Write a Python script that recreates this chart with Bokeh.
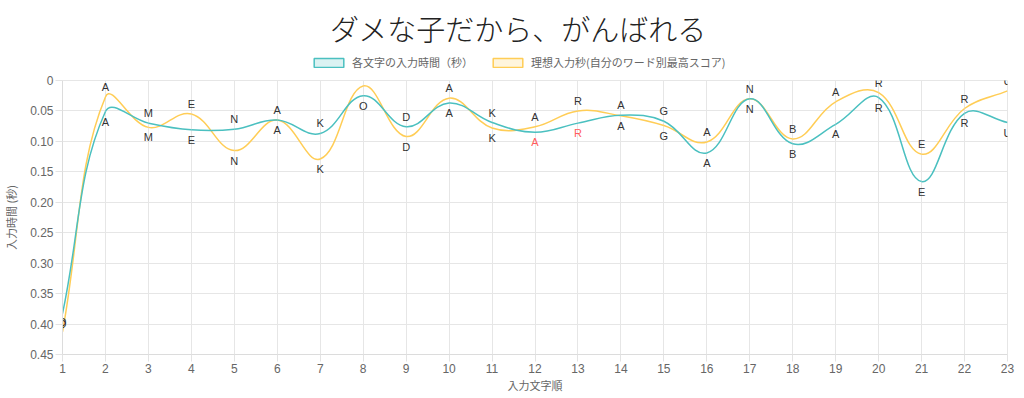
import math
from bokeh.plotting import figure
from bokeh.layouts import column
from bokeh.models import (Range1d, FixedTicker, Legend, LegendItem, ColumnDataSource, Label)
from bokeh.embed import file_html
from bokeh.resources import INLINE

# ---- data ----
title_text = "ダメな子だから、がんばれる"
letters = list("DAMENAKODAKARAGANBARERU")
positions = list(range(1, 24))
actual = [0.383, 0.051, 0.070, 0.081, 0.080, 0.065, 0.087, 0.025, 0.076, 0.037, 0.069,
          0.085, 0.070, 0.057, 0.067, 0.119, 0.030, 0.104, 0.072, 0.028, 0.166, 0.054, 0.069]
ideal = [0.413, 0.027, 0.077, 0.055, 0.115, 0.065, 0.129, 0.009, 0.092, 0.029, 0.078,
         0.076, 0.050, 0.058, 0.074, 0.101, 0.030, 0.096, 0.035, 0.020, 0.121, 0.046, 0.017]
miss_positions = [12, 13]
y_ticks = [0, 0.05, 0.10, 0.15, 0.20, 0.25, 0.30, 0.35, 0.40, 0.45]
y_tick_labels = ["0", "0.05", "0.10", "0.15", "0.20", "0.25", "0.30", "0.35", "0.40", "0.45"]
series_names = ["各文字の入力時間（秒）", "理想入力秒(自分のワード別最高スコア)"]
y_axis_title = "入力時間 (秒)"
x_axis_title = "入力文字順"

TEAL = "rgb(75,192,192)"
YELLOW = "rgb(255,205,86)"
FONT = "Liberation Sans"
JP = "Noto Sans CJK JP"
JP_LIGHT = "'Noto Sans CJK JP Light', 'Noto Sans CJK JP DemiLight', 'Noto Sans CJK JP'"

W = 1008
HEAD_H = 73
FW, FH = 945, 274
XMIN, XMAX, YMIN, YMAX = 1, 23, 0, 0.45
sx = FW / (XMAX - XMIN)
sy = FH / (YMAX - YMIN)


def bezier_segments(xs, ys, t=0.4):
    pts = [(x * sx, y * sy) for x, y in zip(xs, ys)]
    n = len(pts)
    cprev, cnext = [], []
    for i in range(n):
        p0 = pts[i - 1] if i > 0 else pts[i]
        p1 = pts[i]
        p2 = pts[i + 1] if i < n - 1 else pts[i]
        d01 = math.hypot(p1[0] - p0[0], p1[1] - p0[1])
        d12 = math.hypot(p2[0] - p1[0], p2[1] - p1[1])
        tot = d01 + d12
        s01 = d01 / tot if tot else 0
        s12 = d12 / tot if tot else 0
        fa, fb = t * s01, t * s12
        cprev.append((p1[0] - fa * (p2[0] - p0[0]), p1[1] - fa * (p2[1] - p0[1])))
        cnext.append((p1[0] + fb * (p2[0] - p0[0]), p1[1] + fb * (p2[1] - p0[1])))

    def clamp(p):
        return (min(max(p[0] / sx, XMIN), XMAX), min(max(p[1] / sy, YMIN), YMAX))

    d = dict(x0=[], y0=[], x1=[], y1=[], cx0=[], cy0=[], cx1=[], cy1=[])
    for i in range(n - 1):
        c0 = clamp(cnext[i])
        c1 = clamp(cprev[i + 1])
        d["x0"].append(xs[i]); d["y0"].append(ys[i])
        d["x1"].append(xs[i + 1]); d["y1"].append(ys[i + 1])
        d["cx0"].append(c0[0]); d["cy0"].append(c0[1])
        d["cx1"].append(c1[0]); d["cy1"].append(c1[1])
    return ColumnDataSource(d)


# ---------- header (title + legend); its frame is aligned with the chart frame ----------
head = figure(width=W, height=HEAD_H, output_backend="svg", toolbar_location=None,
              x_range=Range1d(0, FW), y_range=Range1d(0, HEAD_H),
              x_axis_type=None, y_axis_type=None, min_border=0)
head.grid.visible = False
head.outline_line_color = None
head.background_fill_color = "white"
head.border_fill_color = "white"
head.add_layout(Label(x=460, y=HEAD_H - 27, text=title_text, text_align="center",
                      text_baseline="middle", text_font=JP_LIGHT, text_font_size="29px",
                      text_color="#222222"))
# legend swatches (kept outside the visible header range; only their legend entries show)
r1 = head.quad(left=[-20], right=[-10], top=[-20], bottom=[-10], fill_color=TEAL,
               fill_alpha=0.2, line_color=TEAL, line_width=1.5)
r2 = head.quad(left=[-20], right=[-10], top=[-20], bottom=[-10], fill_color=YELLOW,
               fill_alpha=0.2, line_color=YELLOW, line_width=1.5)
legend = Legend(items=[LegendItem(label=series_names[0], renderers=[r1]),
                       LegendItem(label=series_names[1], renderers=[r2])],
                orientation="horizontal", location=(248, 3),
                glyph_width=37, glyph_height=11, label_standoff=5, spacing=16,
                label_text_font=JP, label_text_font_size="11px", label_text_baseline="middle",
                label_text_color="#666666", border_line_alpha=0, background_fill_alpha=0,
                padding=0, margin=0, label_height=11)
head.add_layout(legend)

# ---------- main chart ----------
p = figure(frame_width=FW, frame_height=FH, output_backend="svg", toolbar_location=None,
           x_range=Range1d(XMIN, XMAX), y_range=Range1d(YMAX, YMIN),
           min_border_left=54, min_border_right=9, min_border_bottom=0, min_border_top=7)
p.background_fill_color = "white"
p.border_fill_color = "white"
p.outline_line_color = "#e6e6e6"

p.xaxis.ticker = FixedTicker(ticks=positions)
p.yaxis.ticker = FixedTicker(ticks=y_ticks)
p.yaxis.major_label_overrides = {t: l for t, l in zip(y_ticks, y_tick_labels)}
for ax in (p.xaxis[0], p.yaxis[0]):
    ax.major_tick_out = 7
    ax.major_tick_in = 0
    ax.minor_tick_out = 0
    ax.minor_tick_in = 0
    ax.major_tick_line_color = "#e3e3e3"
    ax.axis_line_color = "#dcdcdc"
    ax.major_label_text_font = FONT
    ax.major_label_text_font_size = "12px"
    ax.major_label_text_color = "#666666"
    ax.major_label_standoff = 2
    ax.axis_label_text_font = JP
    ax.axis_label_text_font_size = "11px"
    ax.axis_label_text_font_style = "normal"
    ax.axis_label_text_color = "#666666"
p.xaxis.axis_label = x_axis_title
p.yaxis.axis_label = y_axis_title
p.xaxis.axis_label_standoff = 1
p.yaxis.axis_label_standoff = 8
p.xgrid.ticker = FixedTicker(ticks=positions)
p.ygrid.ticker = FixedTicker(ticks=y_ticks)
p.grid.grid_line_color = "#e6e6e6"

p.bezier("x0", "y0", "x1", "y1", "cx0", "cy0", "cx1", "cy1",
         source=bezier_segments(positions, ideal), line_color=YELLOW, line_width=1.5)
p.bezier("x0", "y0", "x1", "y1", "cx0", "cy0", "cx1", "cy1",
         source=bezier_segments(positions, actual), line_color=TEAL, line_width=1.5)

OFF = 10
tx, ty, toff, tcol, tt = [], [], [], [], []
for i, (xp, a, b, ch) in enumerate(zip(positions, actual, ideal, letters)):
    teal_above = a <= b
    if i == 0:
        teal_above = not teal_above
    tx += [xp, xp]
    ty += [a, b]
    toff += [-OFF if teal_above else OFF, OFF if teal_above else -OFF]
    tcol += ["#ff5c5c" if xp in miss_positions else "#333333", "#333333"]
    tt += [ch, ch]
p.text(x=tx, y=ty, text=tt, y_offset=toff, text_color=tcol, text_align="center",
       text_baseline="middle", text_font_size="11px", text_font={"value": FONT})

layout = column(head, p, spacing=0)
open("out.html", "w").write(file_html(layout, INLINE))
